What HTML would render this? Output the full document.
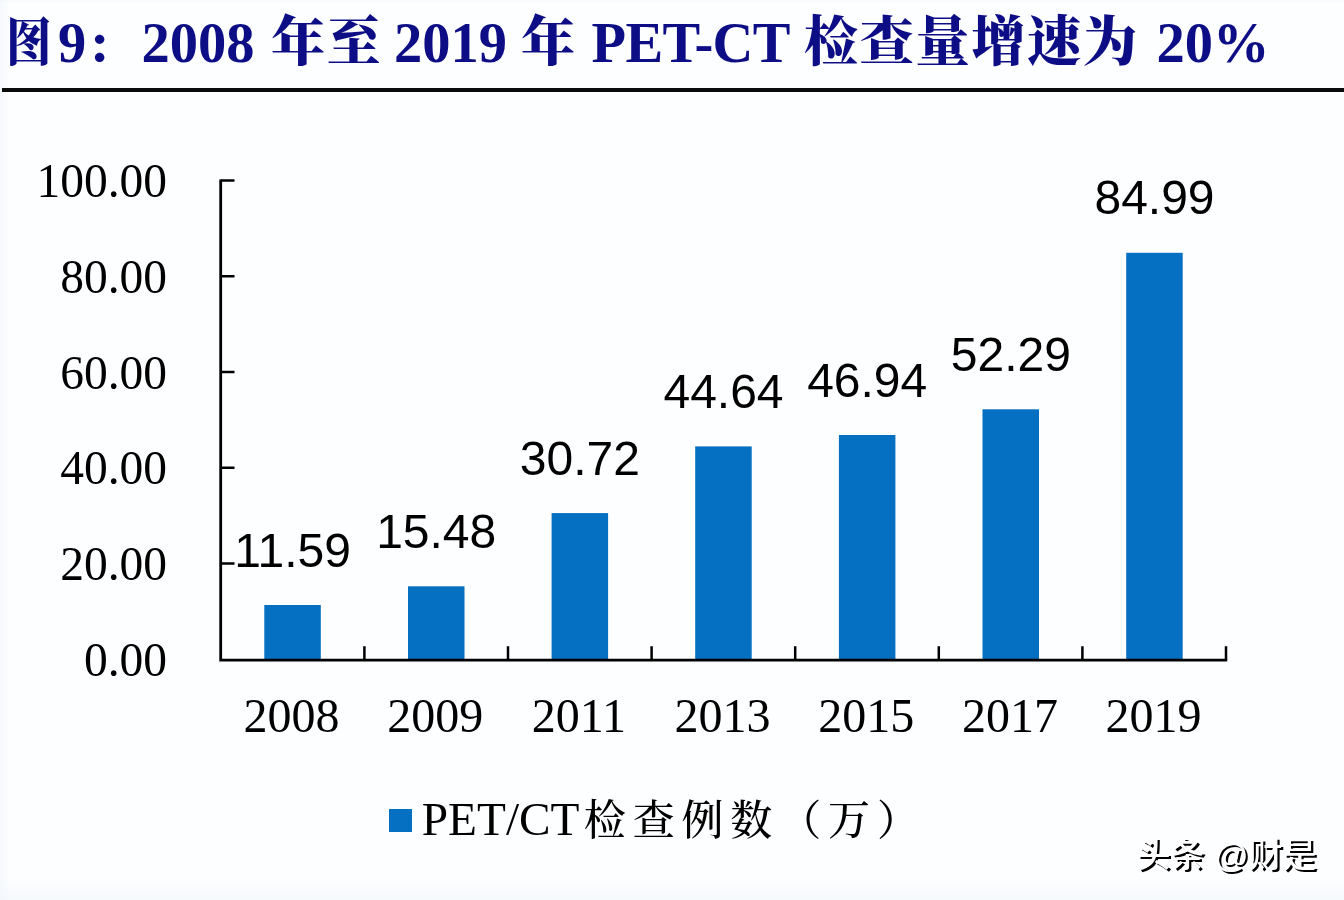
<!DOCTYPE html>
<html lang="zh">
<head>
<meta charset="utf-8">
<title>图9：2008 年至 2019 年 PET-CT 检查量增速为 20%</title>
<style>
html,body{margin:0;padding:0;background:#fdfeff;}
body{width:1344px;height:900px;position:relative;overflow:hidden;}
.abs{position:absolute;white-space:nowrap;line-height:1;}
#title{left:0;top:14.5px;width:1344px;height:70px;font-family:"Liberation Serif","Noto Serif CJK SC",serif;font-weight:bold;font-size:56.5px;color:#0d0d85;}
#title span{position:absolute;top:0;white-space:pre;line-height:1;}
#title span.c{font-weight:900;font-size:54px;letter-spacing:1.8px;top:1px;}
#rule{left:2px;top:88px;width:1342px;height:3.6px;background:#0a0a0a;}
.yl{font-family:"Liberation Serif",serif;font-size:47.5px;color:#000;text-align:right;width:167px;left:0;}
.xl{font-family:"Liberation Serif",serif;font-size:48px;color:#000;text-align:center;width:144px;}
.dl{font-family:"Liberation Sans",sans-serif;font-size:48px;color:#000;text-align:center;width:160px;}
.bar{background:#056fc1;width:56.5px;}
#edge{left:0;top:0;width:1344px;height:900px;pointer-events:none;background:linear-gradient(to right,rgba(240,245,251,.55),rgba(240,245,251,0) 10px),linear-gradient(to top,rgba(242,246,251,.6),rgba(242,246,251,0) 24px),linear-gradient(to bottom,rgba(242,246,251,.5),rgba(242,246,251,0) 4px);}
#legend{left:421.8px;top:796.3px;width:520px;height:50px;font-family:"Liberation Serif","Noto Serif CJK SC",serif;font-size:47.3px;color:#000;}
#legend span{position:absolute;top:0;white-space:pre;line-height:1;}
#legend span.c{font-size:42px;letter-spacing:6.85px;font-weight:500;top:4px;}
#wm{left:1136.5px;top:837.5px;font-family:"Liberation Sans","Noto Sans CJK SC",sans-serif;font-size:34px;color:#fff;font-weight:500;text-shadow:2.2px 2.2px 0.3px #000;}
</style>
</head>
<body>
<div id="edge" class="abs"></div>
<div id="title" class="abs"><span class="c" style="left:5.5px;font-size:50px;top:3.5px;transform:scale(0.91,1.04);transform-origin:0 50%">图</span><span style="left:58px">9</span><span class="c" style="left:86.5px;font-size:46px;top:9.5px">：</span><span style="left:141.5px">2008 </span><span class="c" style="left:271px">年至 </span><span style="left:394px">2019 </span><span class="c" style="left:521px">年 </span><span style="left:591.5px;letter-spacing:-0.6px">PET-CT </span><span class="c" style="left:804px">检查量增速为 </span><span style="left:1156.5px">20%</span></div>
<div id="rule" class="abs"></div>

<!-- y axis labels -->
<div class="abs yl" style="top:158.2px">100.00</div>
<div class="abs yl" style="top:253.9px">80.00</div>
<div class="abs yl" style="top:349.6px">60.00</div>
<div class="abs yl" style="top:445.4px">40.00</div>
<div class="abs yl" style="top:541.1px">20.00</div>
<div class="abs yl" style="top:636.8px">0.00</div>

<!-- axes, ticks and bars -->
<svg class="abs" style="left:0;top:0" width="1344" height="900" viewBox="0 0 1344 900">
<g fill="#056fc1">
<rect x="264.3" y="605" width="56.5" height="54.2"/>
<rect x="408.0" y="586.3" width="56.5" height="72.9"/>
<rect x="551.6" y="513.1" width="56.5" height="146.1"/>
<rect x="695.2" y="446.4" width="56.5" height="212.8"/>
<rect x="838.9" y="435" width="56.5" height="224.2"/>
<rect x="982.5" y="409.3" width="56.5" height="249.9"/>
<rect x="1126.2" y="252.8" width="56.5" height="406.4"/>
</g>
<g stroke="#000" stroke-width="2.5" fill="none">
<path d="M220.7 179.4V660.2H1227.2" stroke-width="2.8" stroke-linejoin="miter"/>
<path d="M220.7 180.6H234.5M220.7 276.3H234.5M220.7 372.0H234.5M220.7 467.8H234.5M220.7 563.5H234.5M364.4 660V646.2M508.0 660V646.2M651.6 660V646.2M795.2 660V646.2M938.8 660V646.2M1082.4 660V646.2M1226.0 660V646.2"/>
</g></svg>

<!-- data labels -->
<div class="abs dl" style="left:212.6px;top:527.0px">11.59</div>
<div class="abs dl" style="left:356.2px;top:508.3px">15.48</div>
<div class="abs dl" style="left:499.9px;top:435.1px">30.72</div>
<div class="abs dl" style="left:643.5px;top:368.4px">44.64</div>
<div class="abs dl" style="left:787.2px;top:357.0px">46.94</div>
<div class="abs dl" style="left:930.8px;top:331.3px">52.29</div>
<div class="abs dl" style="left:1074.5px;top:173.8px">84.99</div>

<!-- x labels -->
<div class="abs xl" style="left:219.6px;top:691.5px">2008</div>
<div class="abs xl" style="left:363.2px;top:691.5px">2009</div>
<div class="abs xl" style="left:506.9px;top:691.5px">2011</div>
<div class="abs xl" style="left:650.6px;top:691.5px">2013</div>
<div class="abs xl" style="left:794.2px;top:691.5px">2015</div>
<div class="abs xl" style="left:937.9px;top:691.5px">2017</div>
<div class="abs xl" style="left:1081.5px;top:691.5px">2019</div>

<!-- legend -->
<div class="abs bar" style="left:388.5px;top:808.5px;width:23.5px;height:23px"></div>
<div id="legend" class="abs"><span style="left:0">PET/CT</span><span class="c" style="left:162px">检查例数（万）</span></div>

<div id="wm" class="abs">头条 @财是</div>
</body>
</html>
